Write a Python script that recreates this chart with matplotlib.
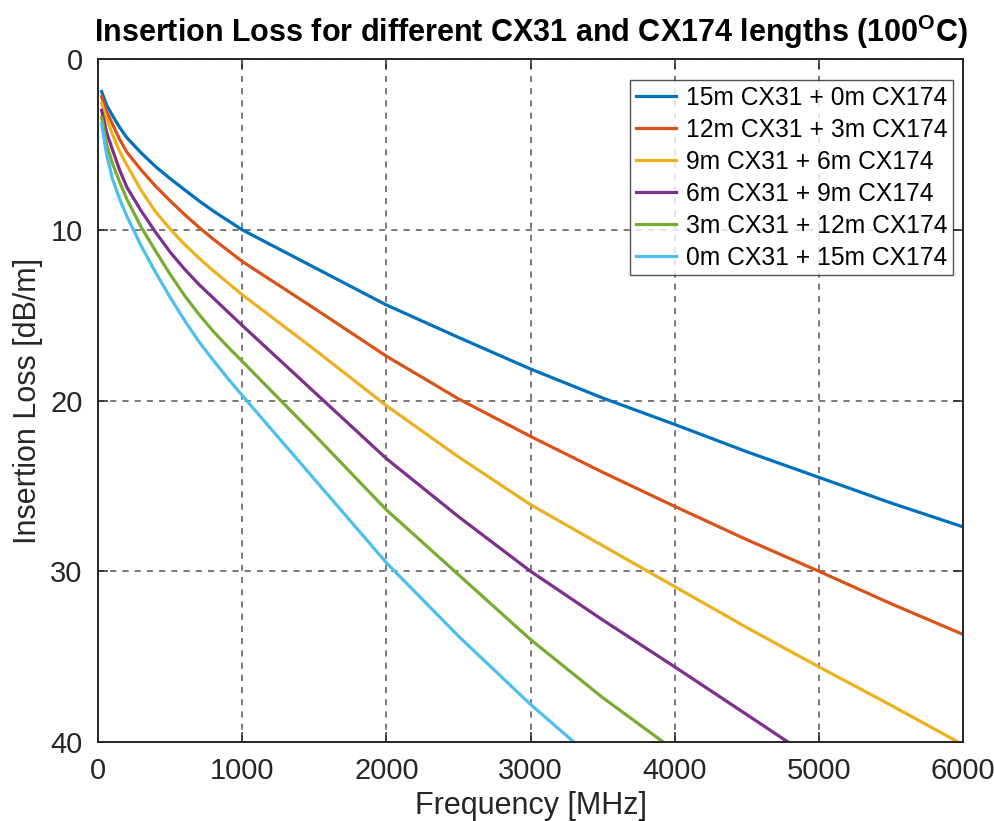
import numpy as np
import matplotlib
matplotlib.use('Agg')
import matplotlib.pyplot as plt

# values (frequency in MHz, loss in dB/m)
f_low = [25, 60, 100, 150, 200, 300, 400, 500, 600, 700, 800, 900]
f_high = [1000, 1500, 2000, 2500, 3000, 3500, 4000, 4500, 5000, 5500]

freq_15_0 = f_low + f_high + [6000]
loss_15_0 = [1.9, 2.7, 3.3, 4.0, 4.6, 5.5, 6.3, 7.0, 7.65, 8.3, 8.9, 9.45,
             10.0, 12.2, 14.4, 16.3, 18.15, 19.85, 21.4, 23.0, 24.5, 26.0, 27.4]

freq_12_3 = f_low + f_high + [6000]
loss_12_3 = [2.2, 3.1, 3.8, 4.7, 5.45, 6.5, 7.45, 8.3, 9.1, 9.85, 10.55, 11.2,
             11.85, 14.6, 17.4, 19.9, 22.1, 24.2, 26.2, 28.15, 30.0, 31.9, 33.7]

freq_9_6 = f_low + f_high + [5965]
loss_9_6 = [2.6, 3.5, 4.4, 5.4, 6.2, 7.7, 8.95, 9.95, 10.85, 11.65, 12.4, 13.1,
            13.8, 17.0, 20.3, 23.3, 26.1, 28.5, 30.9, 33.3, 35.6, 37.85, 40.0]

freq_6_9 = f_low + [1000, 1500, 2000, 2500, 3000, 3500, 4000, 4500, 4785]
loss_6_9 = [3.0, 4.3, 5.3, 6.5, 7.5, 8.9, 10.15, 11.3, 12.3, 13.2, 14.0, 14.8,
            15.6, 19.5, 23.4, 26.8, 30.0, 32.85, 35.6, 38.4, 40.0]

freq_3_12 = f_low + [1000, 1500, 2000, 2500, 3000, 3500, 3920]
loss_3_12 = [3.4, 5.0, 6.1, 7.2, 8.2, 9.85, 11.25, 12.6, 13.85, 14.95, 15.95, 16.85,
             17.7, 22.0, 26.4, 30.2, 34.0, 37.4, 40.0]

freq_0_15 = f_low + [1000, 1500, 2000, 2500, 3000, 3300]
loss_0_15 = [3.8, 5.6, 7.0, 8.2, 9.2, 10.95, 12.5, 13.95, 15.3, 16.55, 17.65, 18.7,
             19.7, 24.6, 29.5, 33.8, 37.8, 40.0]

labels = ['15m CX31 + 0m CX174', '12m CX31 + 3m CX174', '9m CX31 + 6m CX174',
          '6m CX31 + 9m CX174', '3m CX31 + 12m CX174', '0m CX31 + 15m CX174']
colors = ['#0072BD', '#D95319', '#EDB120', '#7E2F8E', '#77AC30', '#4DBEEE']

series = [(freq_15_0, loss_15_0), (freq_12_3, loss_12_3), (freq_9_6, loss_9_6),
          (freq_6_9, loss_6_9), (freq_3_12, loss_3_12), (freq_0_15, loss_0_15)]

plt.rcParams['font.family'] = ['Liberation Sans', 'DejaVu Sans']
plt.rcParams['mathtext.fontset'] = 'custom'
plt.rcParams['mathtext.bf'] = 'Liberation Sans:bold'
plt.rcParams['mathtext.rm'] = 'Liberation Sans'

fig = plt.figure(figsize=(9.94, 8.21), dpi=100)
ax = fig.add_axes([0.0986, 0.0962, 0.8704, 0.8318])

for (x, y), lab, c in zip(series, labels, colors):
    ax.plot(x, y, color=c, lw=2.3, label=lab, solid_joinstyle='round')

ax.set_xlim(0, 6000)
ax.set_ylim(40, 0)
ax.set_xticks([0, 1000, 2000, 3000, 4000, 5000, 6000])
ax.set_yticks([0, 10, 20, 30, 40])
ax.grid(True, ls=(0, (4, 4)), color='#555555', lw=1.1)
ax.tick_params(direction='in', top=True, right=True, length=7, width=1.1,
               labelsize=21, pad=11, colors='#262626', labelcolor='#262626')
for s in ax.spines.values():
    s.set_linewidth(1.4)
    s.set_color('#262626')

ax.set_xlabel('Frequency [MHz]', fontsize=22, color='#262626', labelpad=4)
ax.set_ylabel('Insertion Loss [dB/m]', fontsize=22, color='#262626', labelpad=5)
ax.set_title(r'Insertion Loss for different CX31 and CX174 lengths (100$^{\mathbf{O}}$C)',
             fontsize=22, fontweight='bold', pad=12)

leg = ax.legend(loc='upper right', bbox_to_anchor=(1 - 10 / 865, 1 - 21 / 683),
                borderaxespad=0, frameon=True, fancybox=False,
                edgecolor='#262626', handlelength=1.65, handletextpad=0.4,
                labelspacing=0.33, borderpad=0.22,
                prop={'family': ['Liberation Sans', 'DejaVu Sans'], 'size': 17.7})
leg.get_frame().set_linewidth(1.0)

fig.savefig('out.png', dpi=100)
